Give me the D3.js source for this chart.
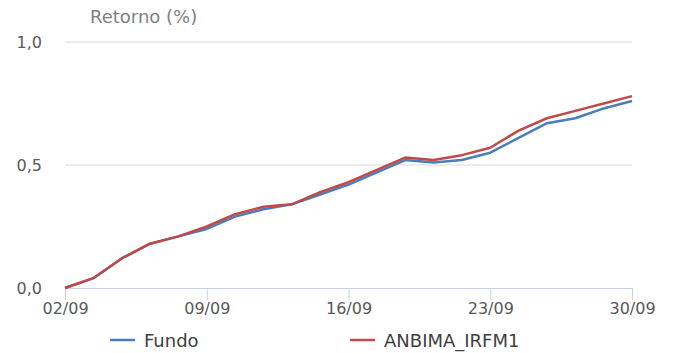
<!DOCTYPE html>
<html>
<head>
<meta charset="utf-8">
<script src="https://cdn.jsdelivr.net/npm/d3@7"></script>
<style>
  body { margin: 0; background: #fff; }
  svg { font-family: "DejaVu Sans", sans-serif; }
</style>
</head>
<body>
<div id="chart"></div>
<script>
// Business days of September (category axis)
const dates = ['02/09','03/09','04/09','05/09','06/09','09/09','10/09','11/09','12/09','13/09',
  '16/09','17/09','18/09','19/09','20/09','23/09','24/09','25/09','26/09','27/09','30/09'];
const fundo = [0, 0.04, 0.12, 0.18, 0.21, 0.24, 0.29, 0.32, 0.34, 0.38, 0.42, 0.47, 0.52, 0.51,
  0.52, 0.55, 0.61, 0.67, 0.69, 0.73, 0.76];
const anbima = [0, 0.04, 0.12, 0.18, 0.21, 0.25, 0.30, 0.33, 0.34, 0.39, 0.43, 0.48, 0.53, 0.52,
  0.54, 0.57, 0.64, 0.69, 0.72, 0.75, 0.78];
const yTicks = [0, 0.5, 1.0];
const tickDates = ['02/09','09/09','16/09','23/09','30/09'];
const seriesNames = ['Fundo', 'ANBIMA_IRFM1'];
const colors = ['#4a7ebb', '#be4b48'];

const W = 673, H = 353;
const svg = d3.select('#chart').append('svg').attr('width', W).attr('height', H);

const x = d3.scalePoint().domain(dates).range([65, 632]);
const y = d3.scaleLinear().domain([0, 1]).range([288, 42]);

// gridlines
svg.append('g').selectAll('line')
  .data(yTicks.filter(d => d > 0))
  .enter().append('line')
  .attr('x1', 65).attr('x2', 632)
  .attr('y1', d => y(d)).attr('y2', d => y(d))
  .attr('stroke', '#d9d9d9').attr('stroke-width', 1);

// y labels
svg.append('g').selectAll('text')
  .data(yTicks)
  .enter().append('text')
  .attr('x', 42).attr('y', d => y(d) + 6)
  .attr('text-anchor', 'end')
  .attr('fill', '#595959').style('font-size', '16px')
  .text(d => d3.format('.1f')(d).replace('.', ','));

// x axis
const xAxis = svg.append('g').attr('transform', `translate(0,${y(0)})`)
  .call(d3.axisBottom(x).tickValues(tickDates).tickSize(12).tickSizeOuter(0).tickPadding(3));
xAxis.select('.domain').attr('stroke', '#c6d3e8');
xAxis.selectAll('.tick line').attr('stroke', '#c6d3e8');
xAxis.selectAll('.tick text').attr('fill', '#595959').style('font-size', '16px')
  .style('font-family', '"DejaVu Sans", sans-serif');

// lines
const line = d3.line().x((d, i) => x(dates[i])).y(d => y(d));
[fundo, anbima].forEach((s, i) => {
  svg.append('path').datum(s)
    .attr('fill', 'none').attr('stroke', colors[i]).attr('stroke-width', 2.5)
    .attr('stroke-linejoin', 'round')
    .attr('d', line);
});

// title
svg.append('text').attr('x', 90).attr('y', 23)
  .attr('fill', '#7f7f7f').style('font-size', '18px').text('Retorno (%)');

// legend
const legX = [110, 350];
seriesNames.forEach((n, i) => {
  const g = svg.append('g').attr('transform', `translate(${legX[i]},340)`);
  g.append('line').attr('x1', 0).attr('x2', 25).attr('y1', 0).attr('y2', 0)
    .attr('stroke', colors[i]).attr('stroke-width', 2.5);
  g.append('text').attr('x', 34).attr('y', 7)
    .attr('fill', '#404040').style('font-size', '18px').text(n);
});
</script>
</body>
</html>
